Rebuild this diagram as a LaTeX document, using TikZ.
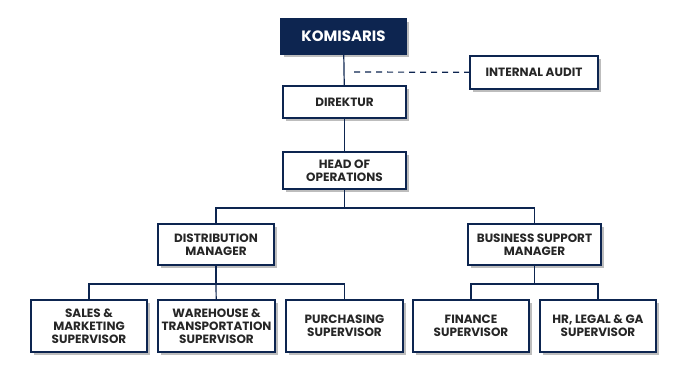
\documentclass[tikz,border=0pt]{standalone}
\usepackage{fontspec}
\setsansfont{Poppins}
\usepackage{xcolor}
\usetikzlibrary{shadows}
\definecolor{OrgNavy}{HTML}{0D2550}
\definecolor{OrgShade}{HTML}{BDBDBD}

\begin{document}
\begin{tikzpicture}[x=1pt,y=-1pt,
  font=\sffamily\bfseries\fontsize{12}{13}\selectfont,
  box/.style={draw=OrgNavy,line width=1.2pt,fill=white,align=center,inner sep=0pt,
    text=black!85,drop shadow={shadow xshift=3pt,shadow yshift=-3pt,fill=OrgShade,opacity=1}},
  topbox/.style={box,fill=OrgNavy,text=white,font=\sffamily\bfseries\fontsize{15}{16}\selectfont},
  link/.style={draw=OrgNavy,line width=1.2pt}]
\useasboundingbox (0,0) rectangle (688,384);
\node[topbox,minimum width=125pt,minimum height=35pt] (kom) at (343.5,36.5) {KOMISARIS};
\node[box,minimum width=128pt,minimum height=33pt] (audit) at (534,72.5) {INTERNAL AUDIT};
\node[box,minimum width=123pt,minimum height=32pt] (dir) at (344.5,102) {DIREKTUR};
\node[box,minimum width=123pt,minimum height=37pt] (head) at (344.5,170.5) {HEAD OF\\OPERATIONS};
\node[box,minimum width=116pt,minimum height=41pt] (dm) at (216,244.5) {DISTRIBUTION\\MANAGER};
\node[box,minimum width=133pt,minimum height=41pt] (bsm) at (534.5,244.5) {BUSINESS SUPPORT\\MANAGER};
\node[box,minimum width=116pt,minimum height=52pt] (sales) at (89,326) {SALES \&\\MARKETING\\SUPERVISOR};
\node[box,minimum width=117pt,minimum height=52pt] (wh) at (216.5,326) {WAREHOUSE \&\\TRANSPORTATION\\SUPERVISOR};
\node[box,minimum width=117pt,minimum height=52pt] (purch) at (344.5,326) {PURCHASING\\SUPERVISOR};
\node[box,minimum width=116pt,minimum height=52pt] (fin) at (471,326) {FINANCE\\SUPERVISOR};
\node[box,minimum width=116pt,minimum height=52pt] (hr) at (598,326) {HR, LEGAL \& GA\\SUPERVISOR};
% junctions
\coordinate (ia) at (354,72);
\coordinate (j1) at (344.5,208);
\coordinate (j2) at (216,284);
\coordinate (j3) at (534.5,284);
\draw[link] (kom) -- (dir);
\draw[link,dash pattern=on 6pt off 5pt] (ia) -- (audit);
\draw[link] (dir) -- (head);
\draw[link] (head) -- (j1);
\draw[link] (dm.north) |- (j1) -| (bsm.north);
\draw[link] (dm) -- (j2);
\draw[link] (sales.north) |- (j2) -| (purch.north);
\draw[link] (j2) -- (wh);
\draw[link] (bsm) -- (j3);
\draw[link] (fin.north) |- (j3) -| (hr.north);
\end{tikzpicture}
\end{document}
